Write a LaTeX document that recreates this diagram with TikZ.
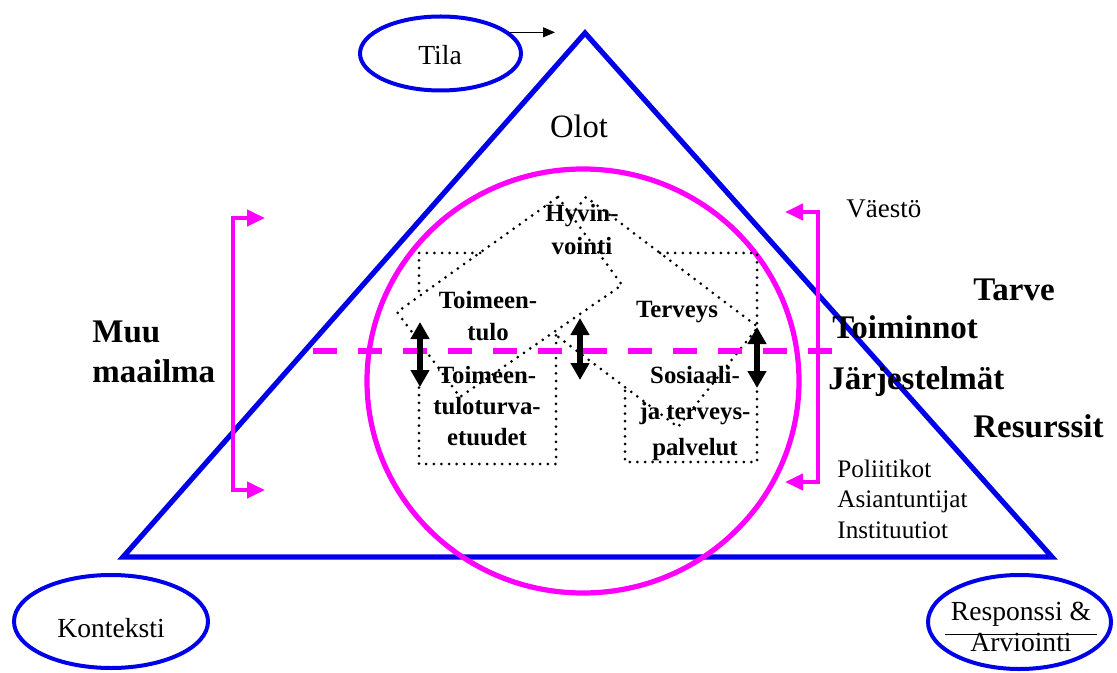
\documentclass[tikz,border=0pt]{standalone}
\usepackage{fontspec}
\setmainfont{Liberation Serif}
\usetikzlibrary{shapes.geometric,arrows.meta}
\definecolor{ovalblue}{RGB}{0,0,232}
\definecolor{pinkish}{RGB}{255,0,255}
\tikzset{
  oval/.style={ellipse, draw=ovalblue, line width=2pt, inner sep=0pt},
  bracket/.style={draw=pinkish, line width=2pt, line join=miter,
    {Triangle[length=9pt,width=8pt]}-{Triangle[length=9pt,width=8pt]}},
  dotline/.style={line width=1.5pt, line cap=round, dash pattern=on 0pt off 3.8pt},
  twoway/.style={line width=2.6pt, {Triangle[length=8.5pt,width=9pt]}-{Triangle[length=8.5pt,width=9pt]}},
  inlabel/.style={font=\fontsize{12.4pt}{16.5pt}\selectfont\bfseries, align=center, anchor=base, inner sep=0pt},
  sidelabel/.style={font=\fontsize{16.5pt}{20pt}\selectfont\bfseries, anchor=base west, inner sep=0pt},
  plain/.style={font=\fontsize{13.8pt}{15.5pt}\selectfont, anchor=base, inner sep=0pt},
}
\begin{document}
\begin{tikzpicture}[x=0.5pt, y=-0.5pt, line join=round]
\useasboundingbox (0,0) rectangle (1117,673);
% triangle and the big oval
\coordinate (apex) at (585,33);
\coordinate (rightcorner) at (1052,557);
\coordinate (leftcorner) at (123,557);
\draw[ovalblue, line width=2.6pt, line join=miter] (apex) -- (rightcorner) -- (leftcorner) -- cycle;
\draw[pinkish, line width=2.6pt] (583,381) ellipse [x radius=108pt, y radius=106pt];
% corner ovals
\node[oval, minimum width=80.5pt, minimum height=37pt] (tila) at (440.5,53.5) {};
\node[plain] (tilatext) at (440,65) {Tila};
\coordinate (tilatip) at (555,33);
\draw[line width=0.5pt, -{Triangle[length=6pt,width=5pt]}] (tila.17) -- (tila.17 -| tilatip);
\node[oval, minimum width=97pt, minimum height=46.5pt] (konteksti) at (111,621.5) {};
\node[plain] (kontekstitext) at (111,637) {Konteksti};
\node[oval, minimum width=91.5pt, minimum height=47pt] (responssi) at (1019.5,622) {};
\node[plain] (resp1) at (1021,620) {Responssi \&};
\node[plain] (resp2) at (1021,651) {Arviointi};
\coordinate (ruleL) at (945,634);
\coordinate (ruleR) at (1097,634);
\draw[line width=0.5pt] (ruleL) -- (ruleR);
\node[plain, font=\fontsize{16.3pt}{18pt}\selectfont] (olot) at (579,138) {Olot};
% dotted boxes
\draw[dotline] (558,197) -- (622,285) -- (460,397) -- (397,312) -- cycle;
\draw[dotline] (571,215) -- (586,197) -- (758,327) -- (678,427) -- (553,333);
\draw[dotline] (480,253) -- (419,253) -- (419,297);
\draw[dotline] (419,342) -- (419,464) -- (556,464) -- (556,331);
\draw[dotline] (660,253) -- (757,253) -- (757,462) -- (625,462) -- (625,387);
% texts inside (base = last line)
\node[inlabel] (hyvinvointi) at (582,255) {Hyvin-\\vointi};
\node[inlabel, font=\fontsize{12.4pt}{16pt}\selectfont\bfseries] (toimeentulo) at (488,340) {Toimeen-\\tulo};
\node[inlabel, font=\fontsize{12.4pt}{15.5pt}\selectfont\bfseries] (etuudet) at (487,445) {Toimeen-\\tuloturva-\\etuudet};
\node[inlabel] (terveys) at (677,317) {Terveys};
\node[inlabel, font=\fontsize{12.4pt}{18pt}\selectfont\bfseries] (palvelut) at (695,455) {Sosiaali-\\ja terveys-\\palvelut};
% dashed border line
\coordinate (dashL) at (313,351);
\coordinate (dashR) at (832,351);
\draw[pinkish, line width=3.2pt, dash pattern=on 12pt off 10.5pt] (dashL) -- (dashR);
% two way arrows
\coordinate (a1top) at (420,322); \coordinate (a1bot) at (420,387);
\coordinate (a2top) at (580,318); \coordinate (a2bot) at (580,380);
\coordinate (a3top) at (757,327); \coordinate (a3bot) at (757,388);
\draw[twoway] (a1top) -- (a1bot);
\draw[twoway] (a2top) -- (a2bot);
\draw[twoway] (a3top) -- (a3bot);
% brackets
\coordinate (lbtop) at (265,218); \coordinate (lbbot) at (265,490);
\draw[bracket] (lbtop) -| (233,490) -- (lbbot);
\coordinate (rbtop) at (785,212); \coordinate (rbbot) at (785,482);
\draw[bracket] (rbtop) -| (818,482) -- (rbbot);
% side texts
\node[sidelabel, align=left] (muu) at (92,382) {Muu\\maailma};
\node[plain, anchor=base west, font=\fontsize{13.5pt}{15pt}\selectfont] (vaesto) at (846,218) {Väestö};
\node[sidelabel] (tarve) at (973,300) {Tarve};
\node[sidelabel] (toiminnot) at (832,338) {Toiminnot};
\node[sidelabel] (jarjestelmat) at (828,389) {Järjestelmät};
\node[sidelabel] (resurssit) at (973,437) {Resurssit};
\node[plain, anchor=base west, align=left, font=\fontsize{12.6pt}{15.25pt}\selectfont] (toimijat) at (837,538) {Poliitikot\\Asiantuntijat\\Instituutiot};
\end{tikzpicture}
\end{document}
